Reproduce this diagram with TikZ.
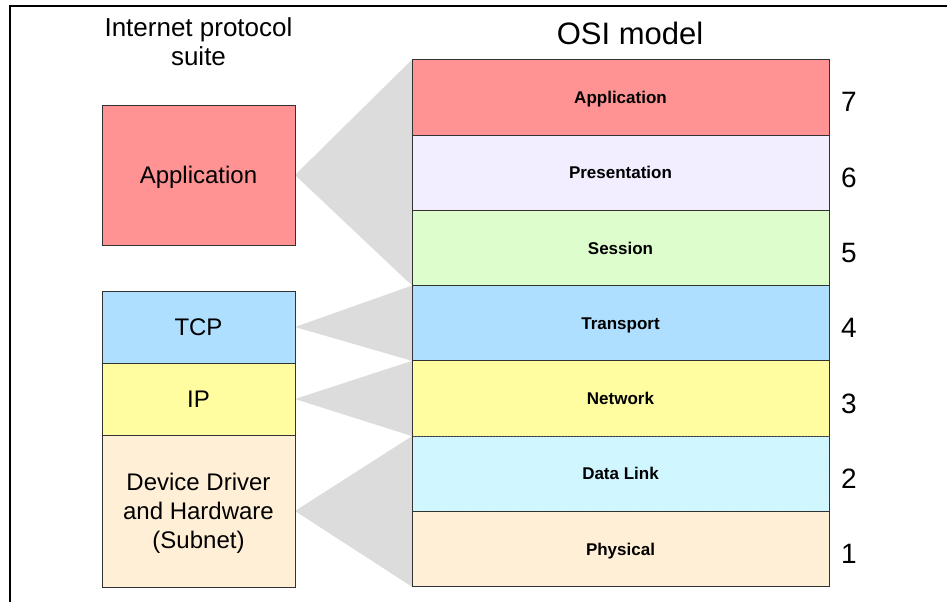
\documentclass[tikz,border=0pt]{standalone}
\usepackage{fontspec}
\setmainfont{Liberation Sans}
\usepackage{xcolor}
\usepackage{tikz}
\usetikzlibrary{positioning,backgrounds,patterns}

\definecolor{appred}{RGB}{255,147,147}
\definecolor{preslilac}{RGB}{242,238,255}
\definecolor{sessgreen}{RGB}{221,253,205}
\definecolor{transblue}{RGB}{174,223,255}
\definecolor{netyellow}{RGB}{255,253,160}
\definecolor{linkcyan}{RGB}{206,246,255}
\definecolor{physbeige}{RGB}{255,239,214}
\definecolor{wedgegray}{RGB}{220,220,220}
\definecolor{edgegray}{RGB}{50,50,50}

\begin{document}
\begin{tikzpicture}[x=1pt, y=-1pt,
    suitebox/.style={draw=edgegray, line width=.8pt, minimum width=193pt, inner sep=0pt, outer sep=0pt, align=center, text depth=0pt, font=\fontsize{24}{29}\selectfont},
    layerbox/.style={draw=edgegray, line width=.8pt, minimum width=417pt, minimum height=75.3pt, inner sep=0pt, outer sep=0pt, text depth=0pt, font=\fontsize{17}{19}\selectfont\bfseries},
    layernum/.style={font=\fontsize{28}{30}\selectfont, inner sep=0pt}]
             \useasboundingbox (0, 0) rectangle (947, 602);
             
             % frame
             \draw[line width=1.2pt] (10, 602) -- (10, 6) -- (947, 6);
             
             % titles
             \node[align=center, font=\fontsize{26}{29}\selectfont] (ipstitle) at (198.5, 42) {Internet protocol\\suite};
             \node[font=\fontsize{31}{33}\selectfont] (osititle) at (630, 33) {OSI model};
             
             % OSI layers
             \node[layerbox, fill=appred] (l7) at (620.5, 97.3) {Application};
             \node[layerbox, fill=preslilac, below=0pt of l7] (l6) {Presentation};
             \node[layerbox, fill=sessgreen, below=0pt of l6] (l5) {Session};
             \node[layerbox, fill=transblue, below=0pt of l5] (l4) {Transport};
             \node[layerbox, fill=netyellow, below=0pt of l4] (l3) {Network};
             \node[layerbox, fill=linkcyan, postaction={pattern=dots, pattern color=white!70!linkcyan}, below=0pt of l3] (l2) {Data Link};
             \node[layerbox, fill=physbeige, below=0pt of l2] (l1) {Physical};
             
             % TCP/IP stack
             \node[suitebox, fill=appred, minimum height=140pt] (app) at (198.5, 175) {Application};
             \node[suitebox, fill=transblue, minimum height=72pt] (tcp) at (198.5, 327) {TCP};
             \node[suitebox, fill=netyellow, minimum height=72pt, below=0pt of tcp] (ip) {IP};
             \node[suitebox, fill=physbeige, minimum height=152pt, below=0pt of ip] (dev) {Device Driver\\and Hardware\\(Subnet)};
             
             % wedges, behind the boxes
             \begin{scope}[on background layer]
             \fill[wedgegray] (app.east) -- (l7.north west) -- (l5.south west) -- cycle;
             \fill[wedgegray] (tcp.east) -- (l4.north west) -- (l4.south west) -- cycle;
             \fill[wedgegray] (ip.east) -- (l3.north west) -- (l3.south west) -- cycle;
             \fill[wedgegray] (dev.east) -- (l2.north west) -- (l1.south west) -- cycle;
             \end{scope}
             
             % layer numbers
             \node[layernum, right=12pt of l7, yshift=-5pt] (n7) {7};
             \node[layernum, right=12pt of l6, yshift=-5pt] (n6) {6};
             \node[layernum, right=12pt of l5, yshift=-5pt] (n5) {5};
             \node[layernum, right=12pt of l4, yshift=-5pt] (n4) {4};
             \node[layernum, right=12pt of l3, yshift=-5pt] (n3) {3};
             \node[layernum, right=12pt of l2, yshift=-5pt] (n2) {2};
             \node[layernum, right=12pt of l1, yshift=-5pt] (n1) {1};
             \end{tikzpicture}
\end{document}
